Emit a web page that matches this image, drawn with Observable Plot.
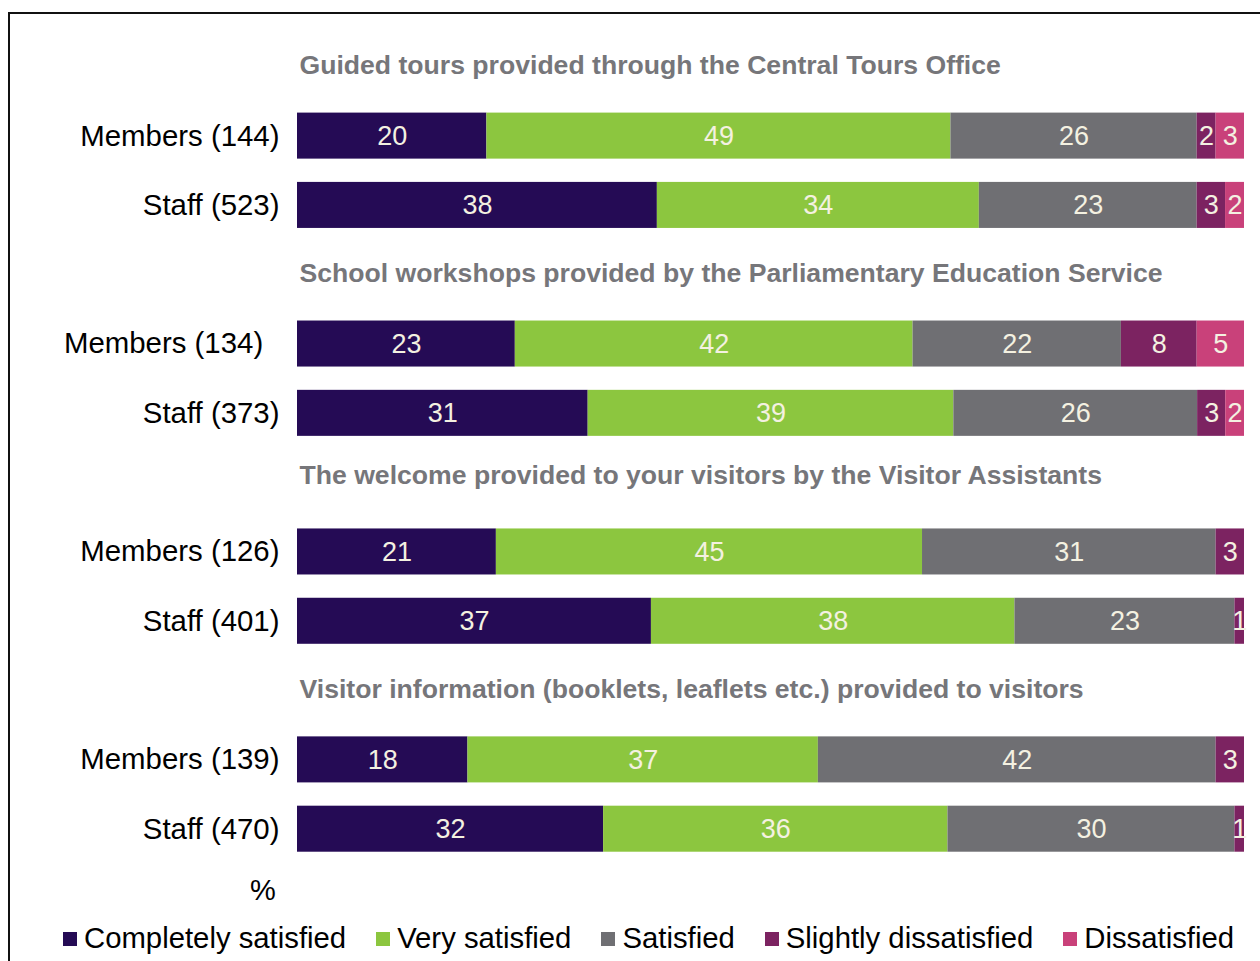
<!DOCTYPE html>
<html>
<head>
<meta charset="utf-8">
<script src="https://cdn.jsdelivr.net/npm/d3@7"></script>
<script src="https://cdn.jsdelivr.net/npm/@observablehq/plot@0.6"></script>
<style>
  html, body { margin: 0; padding: 0; background: #fff; }
  body { width: 1260px; height: 961px; position: relative; overflow: hidden; font-family: "Liberation Sans", Arial, sans-serif; }
  #frame { position: absolute; left: 8px; top: 12px; width: 1400px; height: 1100px; border-left: 2px solid #111; border-top: 2px solid #111; }
  #chart { position: absolute; left: 0; top: 0; }
  #pct { position: absolute; left: 250px; top: 874px; font-size: 29px; color: #000; }
  #legend { position: absolute; left: 63px; top: 921px; display: flex; align-items: center; font-size: 29.3px; color: #000; white-space: nowrap; }
  .item { display: flex; align-items: center; margin-right: 30px; }
  .sw { width: 14px; height: 14px; margin-right: 7px; margin-top: 2px; }
</style>
</head>
<body>
<div id="frame"></div>
<div id="chart"></div>
<div id="pct">%</div>
<div id="legend"></div>
<script>
const sections = [
  "Guided tours provided through the Central Tours Office",
  "School workshops provided by the Parliamentary Education Service",
  "The welcome provided to your visitors by the Visitor Assistants",
  "Visitor information (booklets, leaflets etc.) provided to visitors"
];
const groups = [
  "Members (144)", "Staff (523)",
  "Members (134)", "Staff (373)",
  "Members (126)", "Staff (401)",
  "Members (139)", "Staff (470)"
];
const categories = ["Completely satisfied", "Very satisfied", "Satisfied", "Slightly dissatisfied", "Dissatisfied"];
const colors = ["#250b55", "#8cc63f", "#6f6f73", "#7c2361", "#c9417a"];
const completelySatisfied = [20, 38, 23, 31, 21, 37, 18, 32];
const verySatisfied       = [49, 34, 42, 39, 45, 38, 37, 36];
const satisfied           = [26, 23, 22, 26, 31, 23, 42, 30];
const slightlyDissatisfied= [2, 3, 8, 3, 3, 1, 3, 1];
const dissatisfied        = [3, 2, 5, 2, 0, 0, 0, 0];

const series = [completelySatisfied, verySatisfied, satisfied, slightlyDissatisfied, dissatisfied];
const data = [];
groups.forEach((g, i) => {
  categories.forEach((c, j) => {
    const v = series[j][i];
    if (v > 0) data.push({group: g, category: c, value: v});
  });
});

const yDomain = [];
sections.forEach((s, k) => { yDomain.push(s, groups[2 * k], groups[2 * k + 1]); });

const titleStyle = {x: 0, y: d => d, text: d => d, textAnchor: "start", dx: 2,
  fontWeight: "bold", fill: "#76767a", fontSize: 26.6};

const chart = Plot.plot({
  width: 1260,
  height: 880,
  marginTop: 20,
  marginBottom: 5,
  marginLeft: 297,
  marginRight: 16,
  style: {fontFamily: "'Liberation Sans', Arial, sans-serif", color: "#000", background: "transparent", overflow: "visible"},
  x: {axis: null, domain: [0, 1]},
  y: {domain: yDomain, padding: 0.336, round: false, axis: null},
  color: {domain: categories, range: colors},
  marks: [
    Plot.barX(data, Plot.stackX({x: "value", y: "group", fill: "category", offset: "normalize"})),
    Plot.text(data, Plot.stackX({x: "value", y: "group", z: "category", text: "value", offset: "normalize",
      fill: "#f4f1e1", fontSize: 27})),
    Plot.text(sections, {...titleStyle, dy: -1, filter: d => d !== sections[2]}),
    Plot.text(sections, {...titleStyle, dy: -7, filter: d => d === sections[2]}),
    Plot.axisY({ticks: groups, tickSize: 0, tickPadding: 18, fontSize: 29.4, label: null,
      tickFormat: d => d === "Members (134)" ? d + "\u00a0\u00a0" : d})
  ]
});
document.getElementById("chart").appendChild(chart);

const legend = document.getElementById("legend");
categories.forEach((c, j) => {
  const item = document.createElement("div");
  item.className = "item";
  const sw = document.createElement("div");
  sw.className = "sw";
  sw.style.background = colors[j];
  const label = document.createElement("span");
  label.textContent = c;
  item.appendChild(sw);
  item.appendChild(label);
  legend.appendChild(item);
});
</script>
</body>
</html>
